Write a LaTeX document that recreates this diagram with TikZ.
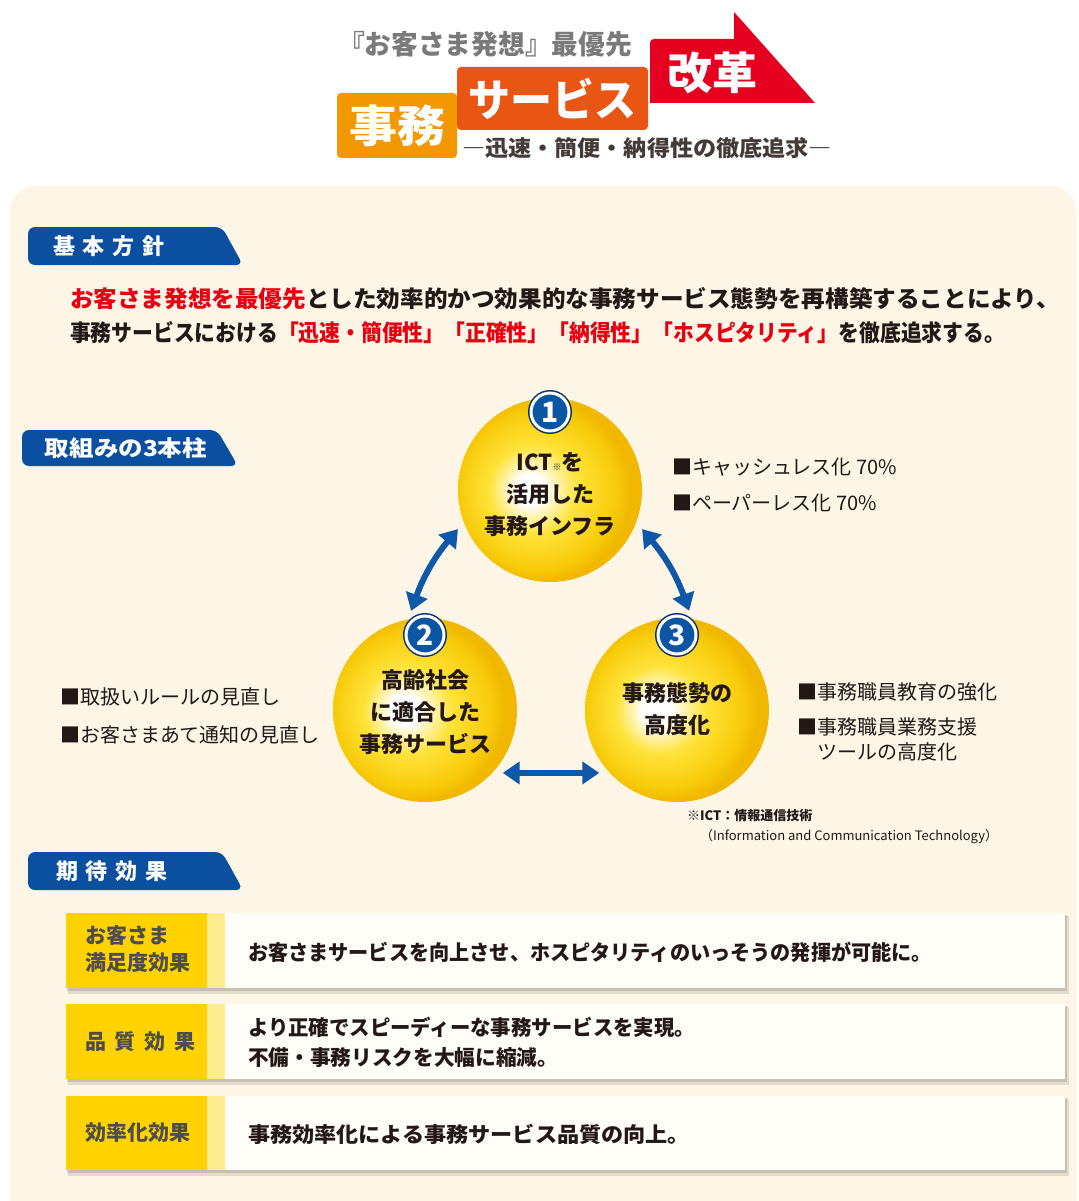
\documentclass[tikz,border=0pt]{standalone}
\usepackage{fontspec}
\setmainfont{Noto Sans CJK JP}
\usepackage{graphicx}
\usetikzlibrary{arrows.meta}
\definecolor{cream}{HTML}{FDF6E6}
\definecolor{orangeA}{HTML}{F39800}
\definecolor{orangeB}{HTML}{E95513}
\definecolor{redC}{HTML}{E50020}
\definecolor{grayT}{HTML}{7A7A7A}
\definecolor{blueT}{HTML}{0A4FA0}
\definecolor{txt}{HTML}{231815}
\definecolor{redT}{HTML}{E60012}
\definecolor{yel}{HTML}{FFD200}
\definecolor{yelL}{HTML}{FFEC8C}
\definecolor{boxW}{HTML}{FFFDF8}
\definecolor{badgeB}{HTML}{0B55A5}
\definecolor{badgeD}{HTML}{08336A}
\definecolor{arrowB}{HTML}{0F57A8}
\definecolor{lab}{HTML}{4D4D4D}
\definecolor{ballM}{HTML}{FFE33A}
\definecolor{ballO}{HTML}{F8CC0C}
\definecolor{ballE}{HTML}{F0B800}
\newcommand\fs[2]{\fontsize{#1}{#2}\selectfont}
\newcommand\fitto[2]{\resizebox{#1}{\height}{#2}}
\pgfdeclareradialshading{yball}{\pgfpoint{-6bp}{0bp}}{color(0bp)=(white); color(4bp)=(white); color(12bp)=(ballM); color(21bp)=(ballO); color(25bp)=(ballE); color(50bp)=(ballE)}
\begin{document}
\begin{tikzpicture}[x=1pt,y=-1pt,
  every node/.style={inner sep=0pt, outer sep=0pt},
  ttl/.style={font=\bfseries\fs{27}{27}, text=grayT},
  bigw/.style={font=\bfseries\fs{44}{44}, text=white},
  subt/.style={font=\bfseries\fs{22}{22}, text=txt!85},
  tabtxt/.style={font=\bfseries\fs{22}{22}, text=white},
  pol/.style={font=\bfseries\fs{23}{23}, text=txt, anchor=west},
  ball/.style={circle, minimum size=184pt, shade, shading=yball, outer sep=8pt},
  badge/.style={circle, minimum size=38pt, fill=badgeB, draw=white, line width=3pt,
    preaction={draw=badgeD, line width=6pt}, text=white, font=\bfseries\fs{28}{28}},
  ctxt/.style={font=\bfseries\fs{22}{32}, text=txt, align=center},
  side/.style={font=\fs{20}{25}, text=txt, anchor=west},
  note/.style={font=\bfseries\fs{13}{13}, text=txt, anchor=west},
  dbl/.style={draw=arrowB, line width=6pt, {Triangle[length=17pt,width=22pt]}-{Triangle[length=17pt,width=22pt]}},
  labt/.style={font=\bfseries\fs{21}{27}, text=lab, anchor=west, align=left},
  efft/.style={font=\bfseries\fs{21}{31}, text=txt, anchor=west, align=left}
]
\useasboundingbox (0,0) rectangle (1078,1201);
\fill[white] (0,0) rectangle (1078,1201);
% panel
\fill[cream] (10,1201) [rounded corners=25pt] -- (10,186) -- (1076,186) [sharp corners] -- (1076,1201) -- cycle;

% ===== title =====
\node[ttl, anchor=west] (ttl) at (338,44) {\fitto{294pt}{『お客さま発想』最優先}};
\fill[orangeA, rounded corners=4pt] (337,93) rectangle (457,158);
\node[bigw] (jimu) at (397,126) {\fitto{96pt}{事務}};
\fill[orangeB, rounded corners=4pt] (457,67) rectangle (648,130);
\node[bigw] (svc) at (552,99) {\fitto{168pt}{サービス}};
\fill[redC] (650,103) [rounded corners=4pt] -- (650,39) [sharp corners] -- (734,39) -- (734,12) -- (815,103) -- cycle;
\node[bigw] (kaikaku) at (712,73) {\fitto{90pt}{改革}};
\node[subt] (subt) at (647,148) {\fitto{370pt}{―迅速・簡便・納得性の徹底追求―}};

% ===== tabs =====
\fill[blueT, rounded corners=7pt] (28,227) -- (222,227) -- (243,265) -- (28,265) -- cycle;
\node[tabtxt] (tab1) at (109,246) {基\hspace{8pt}本\hspace{8pt}方\hspace{8pt}針};
\fill[blueT, rounded corners=7pt] (22,430) -- (217,430) -- (238,466) -- (22,466) -- cycle;
\node[tabtxt] (tab2) at (126,448) {\fitto{162pt}{取組みの3本柱}};
\fill[blueT, rounded corners=7pt] (28,852) -- (222,852) -- (243,890) -- (28,890) -- cycle;
\node[tabtxt] (tab3) at (112,871) {期\hspace{8pt}待\hspace{8pt}効\hspace{8pt}果};

% ===== policy =====
\node[pol] (pol1) at (70,299) {\fitto{990pt}{{\color{redT}お客さま発想を最優先}とした効率的かつ効果的な事務サービス態勢を再構築することにより、}};
\node[pol] (pol2) at (70,333) {\fitto{935pt}{事務サービスにおける{\color{redT}「迅速・簡便性」「正確性」「納得性」「ホスピタリティ」}を徹底追求する。}};

% ===== circles =====
\node[ball] (c1) at (550,490) {};
\node[ball] (c2) at (425,710) {};
\node[ball] (c3) at (677,710) {};
\node[ctxt] (t1) at (550,495) {ICT{\fs{9}{9}※}を\\活用した\\事務インフラ};
\node[ctxt] (t2) at (425,712) {高齢社会\\に適合した\\事務サービス};
\node[ctxt] (t3) at (677,709) {事務態勢の\\高度化};
\node[badge] (b1) at (550,412) {1};
\node[badge] (b2) at (425,635) {2};
\node[badge] (b3) at (677,635) {3};

\draw[dbl] (c1.203) to[bend right=10] (c2.98);
\draw[dbl] (c1.-23) to[bend left=10] (c3.83);
\draw[dbl] (c2.-39) -- (c3.219);

% ===== side texts =====
\node[side] (s1) at (672,467) {■キャッシュレス化 70\%};
\node[side] (s2) at (672,503) {■ペーパーレス化 70\%};
\node[side] (s3) at (60,697) {■取扱いルールの見直し};
\node[side] (s4) at (60,735) {■お客さまあて通知の見直し};
\node[side] (s5) at (797,692) {■事務職員教育の強化};
\node[side] (s6) at (797,727) {■事務職員業務支援};
\node[side] (s7) at (817,752) {ツールの高度化};
\node[note] (n1) at (687,816) {※ICT：情報通信技術};
\node[note, font=\fs{13}{13}] (n2) at (700,837) {（Information and Communication Technology）};

% ===== effect rows =====
\foreach \T/\B in {913/988, 1004/1079, 1096/1170}{
  \fill[black, opacity=.10] (68,\T+3) rectangle (1069,\B+6);
  \fill[black, opacity=.12] (67,\T+2) rectangle (1067,\B+3);
  \fill[yel] (66,\T) rectangle (207,\B);
  \fill[yelL] (207,\T) rectangle (225,\B);
  \fill[boxW] (225,\T) rectangle (1065,\B);
}
\node[labt] (l1) at (85,949) {お客さま\\満足度効果};
\node[labt] (l2) at (85,1042) {品\hspace{9pt}質\hspace{9pt}効\hspace{9pt}果};
\node[labt] (l3) at (85,1133) {効率化効果};
\node[efft] (e1) at (248,952) {\fitto{684pt}{お客さまサービスを向上させ、ホスピタリティのいっそうの発揮が可能に。}};
\node[efft] (e2) at (248,1027) {\fitto{447pt}{より正確でスピーディーな事務サービスを実現。}};
\node[efft] (e3) at (248,1058) {\fitto{310pt}{不備・事務リスクを大幅に縮減。}};
\node[efft] (e4) at (248,1134) {\fitto{442pt}{事務効率化による事務サービス品質の向上。}};
\end{tikzpicture}
\end{document}
